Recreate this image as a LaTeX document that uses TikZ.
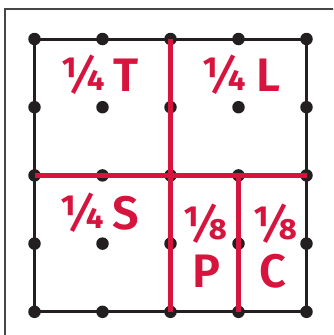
\documentclass[tikz,border=0pt]{standalone}
\usepackage{fontspec}
\setmainfont{Fira Sans}[BoldFont={Fira Sans SemiBold}]
\definecolor{fracred}{RGB}{214,20,62}
\definecolor{dotblack}{RGB}{35,31,32}
\definecolor{framegray}{RGB}{70,70,70}
\begin{document}
\begin{tikzpicture}[x=1pt,y=-1pt,
  dotnode/.style={circle,fill=dotblack,inner sep=0pt,minimum size=12.5pt},
  blackline/.style={draw=dotblack,line width=3pt},
  redline/.style={draw=fracred,line width=4.6pt},
  lbl/.style={text=fracred,font=\bfseries\fontsize{47}{47}\selectfont,inner sep=0pt},
  fr/.style={text=fracred,font=\bfseries\fontsize{47}{47}\selectfont,inner sep=0pt}]
\useasboundingbox (0,0) rectangle (333,335);
\begin{scope}
\clip (0,0) rectangle (333,335);
\draw[framegray,line width=1.3pt] (5,9) rectangle (350,350);
\end{scope}
% dots
\foreach \i in {0,...,4}{
  \foreach \j in {0,...,4}{
    \coordinate (c\i\j) at ({34.5+68*\i},{39+68.2*\j});
  }
}
% black frame
\draw[blackline] (c00) -- (c40) -- (c44) -- (c04) -- cycle;
\foreach \i in {0,...,4}{
  \foreach \j in {0,...,4}{
    \node[dotnode] (d\i\j) at (c\i\j) {};
  }
}
% red partition lines
\draw[redline] (d20.center) -- (d24.center);
\draw[redline] (d02.center) -- (d42.center);
\draw[redline] (d32.center) -- (d34.center);
% labels
\node[fr] (tf) at (83,75) {¼};
\node[lbl] (t) at (126,75) {T};
\node[fr] (lf) at (224,75) {¼};
\node[lbl] (l) at (268,75) {L};
\node[fr] (sf) at (82,213) {¼};
\node[lbl] (s) at (126,213) {S};
\node[fr] (pf) at (205,224) {⅛};
\node[lbl] (p) at (206,271) {P};
\node[fr] (cf) at (275,224) {⅛};
\node[lbl] (c) at (273,271) {C};
\end{tikzpicture}
\end{document}
